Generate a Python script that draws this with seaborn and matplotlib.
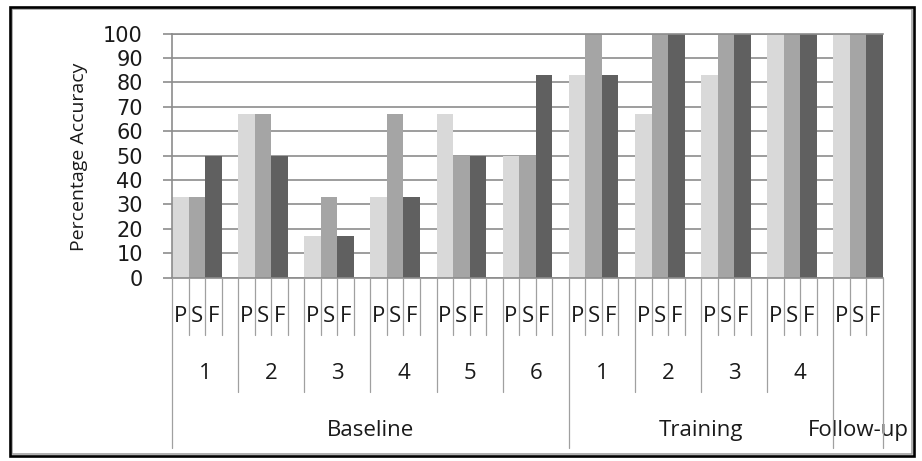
import matplotlib
matplotlib.use("Agg")
import matplotlib.pyplot as plt
from matplotlib.patches import Rectangle
import pandas as pd
import seaborn as sns

# Session data: one entry per session, three scores per session
phases = ["Baseline"] * 6 + ["Training"] * 4 + ["Follow-up"]
sessions = ["1", "2", "3", "4", "5", "6", "1", "2", "3", "4", ""]
measures = ["P", "S", "F"]
p_scores = [33, 67, 17, 33, 67, 50, 83, 67, 83, 100, 100]
s_scores = [33, 67, 33, 67, 50, 50, 100, 100, 100, 100, 100]
f_scores = [50, 50, 17, 33, 50, 83, 83, 100, 100, 100, 100]
y_ticks = list(range(0, 101, 10))
y_label = "Percentage Accuracy"

palette = {"P": "#d9d9d9", "S": "#a5a5a5", "F": "#606060"}

# Build one slot per bar, with an empty spacer slot between sessions
rows, order, slot_info = [], [], []
n_sessions = len(sessions)
for i in range(n_sessions):
    for m, vals in zip(measures, (p_scores, s_scores, f_scores)):
        key = f"{i}-{m}"
        order.append(key)
        slot_info.append(m)
        rows.append({"slot": key, "measure": m, "value": vals[i]})
    if i < n_sessions - 1:
        order.append(f"{i}-gap")
        slot_info.append("")
df = pd.DataFrame(rows)
n_slots = len(order)

sns.set_theme(style="white")
plt.rcParams["font.family"] = ["DejaVu Sans"]

W, H = 922, 461
fig = plt.figure(figsize=(W / 100, H / 100), dpi=100)
ax_left, ax_right, ax_top, ax_bottom = 172, 883, 33.7, 277.7
ax = fig.add_axes([ax_left / W, (H - ax_bottom) / H,
                   (ax_right - ax_left) / W, (ax_bottom - ax_top) / H])

sns.barplot(data=df, x="slot", y="value", hue="measure", order=order,
            hue_order=measures, palette=palette, dodge=False, width=1.0,
            errorbar=None, linewidth=0, legend=False, ax=ax)

grid_c = "#8c8c8c"
ax.set_xlim(-0.5, n_slots - 0.5)
ax.set_ylim(0, 100)
ax.set_yticks(y_ticks)
ax.set_yticklabels([str(t) for t in y_ticks])
ax.set_axisbelow(True)
ax.yaxis.grid(True, color=grid_c, linewidth=1.2)
ax.xaxis.grid(False)
ax.set_xticks([])
ax.set_xlabel("")
ax.set_ylabel("")
ax.tick_params(axis="y", left=True, length=6.5, width=1.2, color=grid_c,
               pad=14.5, labelsize=15, labelcolor="#1a1a1a")
for side in ("left", "bottom", "top"):
    ax.spines[side].set_color(grid_c)
    ax.spines[side].set_linewidth(1.2)
ax.spines["right"].set_visible(False)

# Multi-level category axis: slot lines, session lines, phase lines
trans = ax.get_xaxis_transform()
ax_h = ax_bottom - ax_top
def yfrac(ypix):
    return (ax_bottom - ypix) / ax_h

line_c = "#a0a0a0"
phase_starts = [0]
for i in range(1, n_sessions):
    if phases[i] != phases[i - 1]:
        phase_starts.append(i)

def slot_of_session(i):
    return i * 4

phase_bounds = {slot_of_session(i) for i in phase_starts} | {n_slots}
session_bounds = {slot_of_session(i) for i in range(n_sessions)} | {n_slots}
for b in range(n_slots + 1):
    if b in phase_bounds:
        yend = yfrac(448)
    elif b in session_bounds:
        yend = yfrac(392)
    else:
        yend = yfrac(335)
    ax.plot([b - 0.5, b - 0.5], [0, yend], transform=trans, color=line_c,
            linewidth=0.9, clip_on=False, zorder=5)

txt_font = ["Open Sans", "DejaVu Sans"]
txt_c = "#1a1a1a"
for k, lab in enumerate(slot_info):
    if lab:
        ax.text(k, yfrac(322), lab, transform=trans, ha="center",
                va="baseline", fontsize=16, family=txt_font, color=txt_c,
                zorder=4)
for i, s in enumerate(sessions):
    if s:
        ax.text(slot_of_session(i) + 1.5, yfrac(379), s, transform=trans,
                ha="center", va="baseline", fontsize=16, family=txt_font,
                color=txt_c, zorder=4)

ends = phase_starts[1:] + [n_sessions]
for st, en in zip(phase_starts, ends):
    left = slot_of_session(st) - 0.5
    right = min(slot_of_session(en), n_slots) - 0.5
    ax.text((left + right) / 2, yfrac(436), phases[st], transform=trans,
            ha="center", va="baseline", fontsize=16, family=txt_font,
            color=txt_c, zorder=4)

fig.text(79 / W, 1 - 157 / H, y_label, rotation=90, ha="center",
         va="center", fontsize=14, family=txt_font, color=txt_c)

# Chart frame
fig.add_artist(Rectangle((12 / W, (H - 454) / H), (912 - 12) / W,
                         (454 - 9.5) / H, transform=fig.transFigure,
                         fill=False, edgecolor="#9a9a9a", linewidth=1.1))
fig.add_artist(Rectangle((9.5 / W, (H - 456) / H), (914 - 9.5) / W,
                         (456 - 7) / H, transform=fig.transFigure,
                         fill=False, edgecolor="black", linewidth=1.9))

fig.savefig("out.png", dpi=100, facecolor="white")
